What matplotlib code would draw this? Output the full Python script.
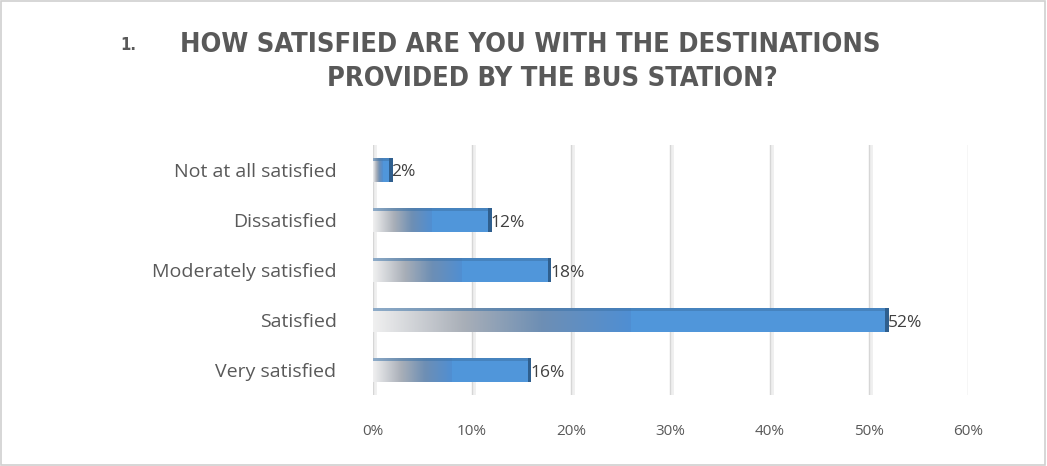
import numpy as np
import matplotlib.pyplot as plt
from matplotlib.colors import LinearSegmentedColormap
from matplotlib.patches import Rectangle

categories = ["Very satisfied", "Satisfied", "Moderately satisfied",
              "Dissatisfied", "Not at all satisfied"]
shares = [16, 52, 18, 12, 2]
xticks = [0, 10, 20, 30, 40, 50, 60]

plt.rcParams["font.family"] = ["Open Sans", "DejaVu Sans"]
grey_text = "#595959"

fig = plt.figure(figsize=(10.47, 4.66), dpi=100)
fig.patch.set_facecolor("white")
fig.add_artist(Rectangle((0.001, 0.002), 0.997, 0.995, transform=fig.transFigure,
                         fill=False, edgecolor="#D0D0D0", linewidth=1.2))

# title in two lines, numbered like a list item
title_font = dict(fontsize=19.5, fontweight="bold", color=grey_text, va="center",
                  family="DejaVu Sans", fontstretch="condensed")
fig.text(0.115, 0.903, "1.", **{**title_font, "fontsize": 12})
fig.text(0.172, 0.903, "HOW SATISFIED ARE YOU WITH THE DESTINATIONS", **title_font)
fig.text(0.528, 0.831, "PROVIDED BY THE BUS STATION?", ha="center", **title_font)

ax = fig.add_axes([0.356, 0.152, 0.5685, 0.537])
ax.set_xlim(0, 60)
ax.set_ylim(-0.5, len(categories) - 0.5)

for x in xticks:
    ax.axvline(x + 0.2, color="#EFEFEF", linewidth=2, zorder=0)
    ax.axvline(x, color="#D6D6D6", linewidth=1, zorder=0)

cmap = LinearSegmentedColormap.from_list(
    "fade", [(0.0, "#F0F0F0"), (0.35, "#A9AFB8"), (0.65, "#6E8FB4"), (1.0, "#4F8ED3")])
grad = np.linspace(0, 1, 256).reshape(1, -1)
bar_h = 0.47
for y, v in enumerate(shares):
    fade = v * 0.5
    ax.imshow(grad, cmap=cmap, aspect="auto", extent=(0, fade, y - bar_h / 2, y + bar_h / 2),
              zorder=2, interpolation="bicubic")
    ax.add_patch(Rectangle((fade, y - bar_h / 2), v - fade, bar_h,
                           facecolor="#5096DA", edgecolor="none", zorder=2))
    # darker top edge and end face for a slight 3D look
    ax.add_patch(Rectangle((0, y + bar_h / 2 - 0.05), v, 0.05,
                           facecolor="#3E74A8", alpha=0.55, edgecolor="none", zorder=3))
    ax.add_patch(Rectangle((v - 0.35, y - bar_h / 2), 0.35, bar_h,
                           facecolor="#2F5F8E", edgecolor="none", zorder=3))
    ax.text(v - 0.1, y - 0.05, f"{v}%", fontsize=12.5, color="#404040",
            va="center", ha="left", zorder=4)

ax.set_yticks(range(len(categories)))
ax.set_yticklabels(categories, fontsize=14, color=grey_text)
ax.set_xticks(xticks)
ax.set_xticklabels([f"{t}%" for t in xticks], fontsize=11, color=grey_text)
ax.tick_params(axis="y", length=0, pad=26)
ax.tick_params(axis="x", length=0, pad=21)
for s in ax.spines.values():
    s.set_visible(False)

fig.savefig("out.png", dpi=100, facecolor="white")
